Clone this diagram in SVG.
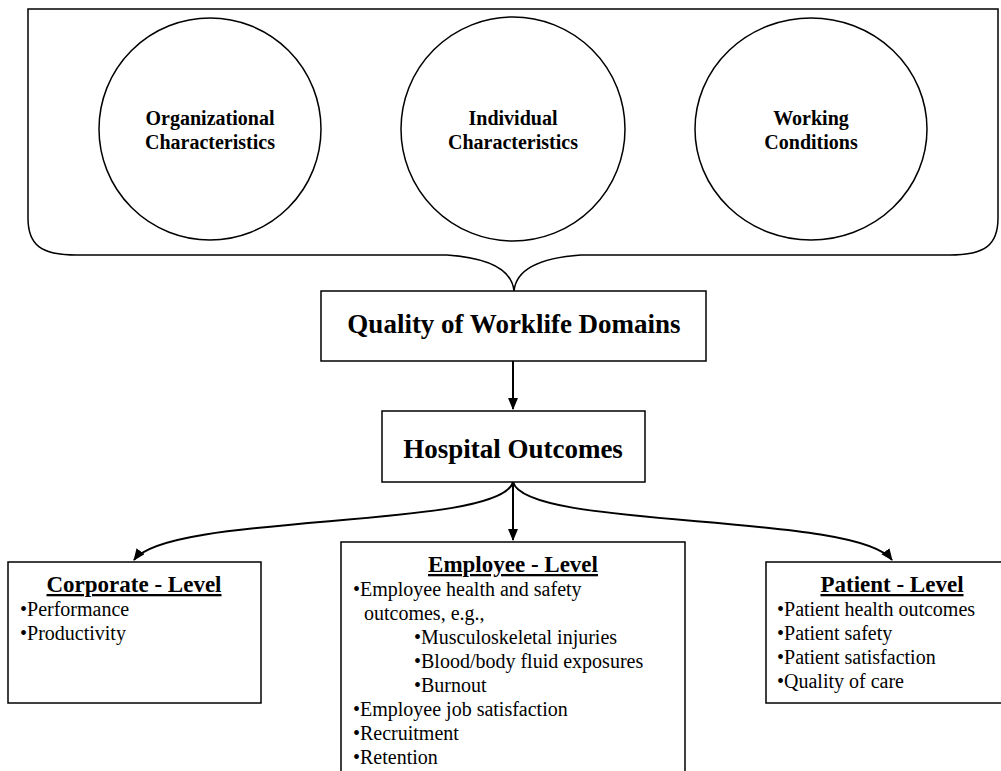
<svg xmlns="http://www.w3.org/2000/svg" width="1001" height="771" viewBox="0 0 1001 771">
<style>
.ln{fill:none;stroke:#000;stroke-width:1.5}
.box{fill:#fff;stroke:#000;stroke-width:1.5}
text{font-family:'Liberation Serif','Times New Roman','DejaVu Serif',serif}
.ct{font-weight:bold;font-size:20px;text-anchor:middle}
.bt{font-weight:bold;font-size:27px;text-anchor:middle}
.ht{font-weight:bold;font-size:23px;text-anchor:middle;text-decoration:underline}
.it{font-size:20px}
.ar{fill:none;stroke:#000;stroke-width:2}
</style>
<defs>
<marker id="ah" markerWidth="13" markerHeight="12" refX="11" refY="5" orient="auto" markerUnits="userSpaceOnUse">
<path d="M0,0 L12,5 L0,10 Z" fill="#000"/>
</marker>
</defs>
<g id="brace">
<path class="ln" d="M28,9 H998 V218 C998,245 985,255 950,255 H581 C538,258 516,270 514,291 C512,270 490,258 447,255 H76 C41,255 28,245 28,218 Z"/>
</g>
<g id="org">
<circle class="ln" cx="210" cy="129" r="111"/>
<text class="ct" x="210" y="125">Organizational</text>
<text class="ct" x="210" y="149">Characteristics</text>
</g>
<g id="ind">
<circle class="ln" cx="513" cy="129" r="112"/>
<text class="ct" x="513" y="125">Individual</text>
<text class="ct" x="513" y="149">Characteristics</text>
</g>
<g id="work">
<ellipse class="ln" cx="811" cy="129" rx="116" ry="111"/>
<text class="ct" x="811" y="125">Working</text>
<text class="ct" x="811" y="149">Conditions</text>
</g>
<g id="connectors">
<line class="ar" x1="513" y1="361" x2="513" y2="409" marker-end="url(#ah)"/>
<line class="ar" x1="513" y1="482" x2="513" y2="540" marker-end="url(#ah)"/>
<path class="ar" d="M513,482 C500,530 170,512 134,560" marker-end="url(#ah)"/>
<path class="ar" d="M513,482 C526,530 856,512 892,560" marker-end="url(#ah)"/>
</g>
<g id="quality">
<rect class="box" x="321" y="291" width="385" height="70"/>
<text class="bt" x="514" y="333">Quality of Worklife Domains</text>
</g>
<g id="hospital">
<rect class="box" x="382" y="411" width="263" height="71"/>
<text class="bt" x="513" y="458">Hospital Outcomes</text>
</g>
<g id="corporate">
<rect class="box" x="8" y="562" width="253" height="141"/>
<text class="ht" x="134" y="592">Corporate - Level</text>
<text class="it" x="20" y="616">•Performance</text>
<text class="it" x="20" y="640">•Productivity</text>
</g>
<g id="employee">
<rect class="box" x="341" y="542" width="344" height="240"/>
<text class="ht" x="513" y="572">Employee - Level</text>
<text class="it" x="353" y="596">•Employee health and safety</text>
<text class="it" x="364" y="620">outcomes, e.g.,</text>
<text class="it" x="414" y="644">•Musculoskeletal injuries</text>
<text class="it" x="414" y="668">•Blood/body fluid exposures</text>
<text class="it" x="414" y="692">•Burnout</text>
<text class="it" x="353" y="716">•Employee job satisfaction</text>
<text class="it" x="353" y="740">•Recruitment</text>
<text class="it" x="353" y="764">•Retention</text>
</g>
<g id="patient">
<rect class="box" x="766" y="562" width="245" height="141"/>
<text class="ht" x="892" y="592">Patient - Level</text>
<text class="it" x="777" y="616">•Patient health outcomes</text>
<text class="it" x="777" y="640">•Patient safety</text>
<text class="it" x="777" y="664">•Patient satisfaction</text>
<text class="it" x="777" y="688">•Quality of care</text>
</g>
</svg>
